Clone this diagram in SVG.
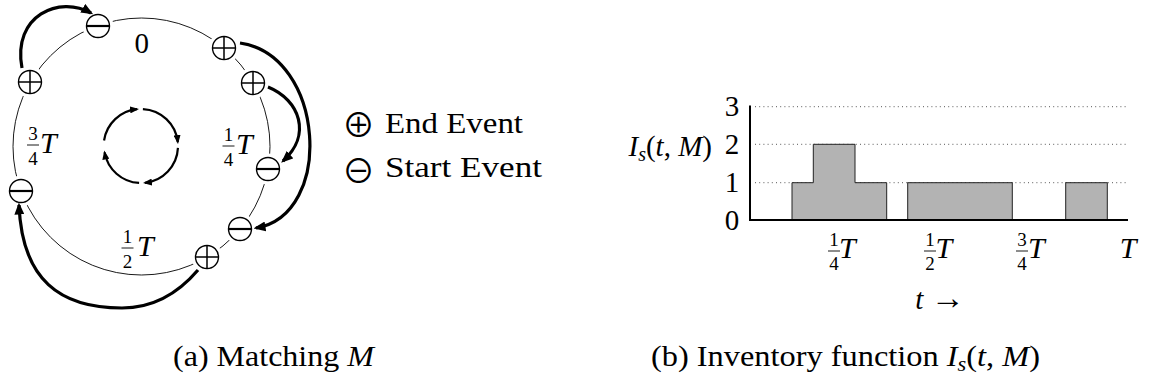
<svg xmlns="http://www.w3.org/2000/svg" xmlns:xlink="http://www.w3.org/1999/xlink" width="1152" height="385" viewBox="0 0 1152 385">
<style>
text{font-family:"Liberation Serif",serif}
.t{font-size:29px}
.it{font-style:italic}
.fr{font-size:19px;text-anchor:middle}
.bigT{font-size:30px;font-style:italic}
.ring{fill:none;stroke:#000;stroke-width:0.9}
.thick{fill:none;stroke:#000;stroke-width:3.2;marker-end:url(#ahBig)}
.inner{fill:none;stroke:#000;stroke-width:2.2;marker-end:url(#ahSmall)}
.fbar{stroke:#000;stroke-width:0.9}
.grid{stroke:#444;stroke-width:0.9;stroke-dasharray:1 3.2}
.bar{fill:#b3b3b3;stroke:#222;stroke-width:1}
.axis{fill:none;stroke:#000;stroke-width:2}
.sym{font-family:"Noto Sans CJK JP",sans-serif;font-size:33px;text-anchor:middle}
</style>
<defs>
<marker id="ahBig" viewBox="0 0 12 10" refX="9.5" refY="5" markerWidth="12" markerHeight="10" markerUnits="userSpaceOnUse" orient="auto"><path d="M0,0 L12,5 L0,10 Z"/></marker>
<marker id="ahSmall" viewBox="0 0 9 7" refX="7" refY="3.5" markerWidth="9" markerHeight="7" markerUnits="userSpaceOnUse" orient="auto"><path d="M0,0 L9,3.5 L0,7 Z"/></marker>
<g id="plus"><circle r="15.5" fill="#fff"/><circle r="11.5" fill="#fff" stroke="#000" stroke-width="1.4"/><path d="M-11.5,0H11.5M0,-11.5V11.5" stroke="#000" stroke-width="1.5"/></g>
<g id="minus"><circle r="15.5" fill="#fff"/><circle r="11.5" fill="#fff" stroke="#000" stroke-width="1.4"/><path d="M-11.5,0H11.5" stroke="#000" stroke-width="2.2"/></g>
</defs>
<rect width="1152" height="385" fill="#fff"/>

<g id="ring"><circle class="ring" cx="141.5" cy="146.5" r="128.5"/></g>
<g id="node-start-top" transform="translate(98,26)"><use xlink:href="#minus"/></g>
<g id="node-end-1" transform="translate(224,48)"><use xlink:href="#plus"/></g>
<g id="node-end-2" transform="translate(253,83)"><use xlink:href="#plus"/></g>
<g id="node-start-right" transform="translate(268,169)"><use xlink:href="#minus"/></g>
<g id="node-start-lowright" transform="translate(240,229)"><use xlink:href="#minus"/></g>
<g id="node-end-bottom" transform="translate(207,257)"><use xlink:href="#plus"/></g>
<g id="node-start-left" transform="translate(21,191)"><use xlink:href="#minus"/></g>
<g id="node-end-left" transform="translate(30,82)"><use xlink:href="#plus"/></g>

<g id="connectors">
<path class="thick" d="M22,68 C12,15 60,-5 91,13"/>
<path class="thick" d="M240,43 C325,55 335,215 256,228"/>
<path class="thick" d="M268,87 C300,100 312,135 283,161"/>
<path class="thick" d="M198,270 C175,297 150,308 122,308 C60,308 22,280 19,205"/>
<path class="inner" d="M142.9,109.05 A37,37 0 0 1 177.8,142.1"/>
<path class="inner" d="M177.95,147.9 A37,37 0 0 1 144.9,182.8"/>
<path class="inner" d="M139.1,182.95 A37,37 0 0 1 104.6,152.4"/>
<path class="inner" d="M104.05,140.5 A37,37 0 0 1 137.1,109.2"/>
</g>

<g id="ring-labels">
<text class="t" x="141.7" y="53" text-anchor="middle">0</text>
<text class="fr" x="33" y="140">3</text><line class="fbar" x1="27" y1="145" x2="39" y2="145"/><text class="fr" x="33" y="164.5">4</text><text class="bigT" x="40" y="153">T</text>
<text class="fr" x="228.5" y="141">1</text><line class="fbar" x1="222.5" y1="146" x2="234.5" y2="146"/><text class="fr" x="228.5" y="165.5">4</text><text class="bigT" x="236" y="154">T</text>
<text class="fr" x="127.5" y="243">1</text><line class="fbar" x1="121.5" y1="248" x2="133.5" y2="248"/><text class="fr" x="127.5" y="267.5">2</text><text class="bigT" x="137" y="256">T</text>
</g>

<g id="legend">
<text class="sym" x="358.5" y="137">⊕</text>
<text class="t" x="385" y="133" textLength="138" lengthAdjust="spacingAndGlyphs">End Event</text>
<text class="sym" x="358.5" y="183">⊖</text>
<text class="t" x="385" y="177" textLength="157" lengthAdjust="spacingAndGlyphs">Start Event</text>
</g>

<text class="t" x="173" y="366" textLength="201" lengthAdjust="spacingAndGlyphs">(a) Matching <tspan class="it">M</tspan></text>

<g id="chart">
<line class="grid" x1="755" y1="106.7" x2="1128" y2="106.7"/>
<line class="grid" x1="755" y1="144.3" x2="1128" y2="144.3"/>
<line class="grid" x1="755" y1="182.7" x2="1128" y2="182.7"/>
<path class="bar" d="M792,220 V182.7 H813.3 V144.3 H855 V182.7 H886.7 V220 Z"/>
<rect class="bar" x="907.7" y="182.7" width="104.6" height="37.3"/>
<rect class="bar" x="1065.7" y="182.7" width="41.6" height="37.3"/>
<path class="axis" d="M750,105.5 V221 M749,220 H1128"/>
<text class="t" x="732" y="116" text-anchor="middle">3</text>
<text class="t" x="732" y="153.5" text-anchor="middle">2</text>
<text class="t" x="732" y="192" text-anchor="middle">1</text>
<text class="t" x="732" y="230" text-anchor="middle">0</text>
<text class="t" x="712" y="156" text-anchor="end"><tspan class="it">I</tspan><tspan class="it" font-size="20" dy="5">s</tspan><tspan dy="-5">(</tspan><tspan class="it">t</tspan>, <tspan class="it">M</tspan>)</text>
<text class="fr" x="834" y="246">1</text><line class="fbar" x1="828" y1="251" x2="840" y2="251"/><text class="fr" x="834" y="270">4</text><text class="bigT" x="839" y="258">T</text>
<text class="fr" x="930" y="246">1</text><line class="fbar" x1="924" y1="251" x2="936" y2="251"/><text class="fr" x="930" y="270">2</text><text class="bigT" x="935.5" y="258">T</text>
<text class="fr" x="1022" y="246">3</text><line class="fbar" x1="1016" y1="251" x2="1028" y2="251"/><text class="fr" x="1022" y="270">4</text><text class="bigT" x="1028" y="258">T</text>
<text class="bigT" x="1128" y="258" text-anchor="middle">T</text>
<text class="t" x="940" y="309" text-anchor="middle"><tspan class="it">t</tspan> <tspan font-size="34">→</tspan></text>
</g>

<text class="t" x="651" y="366" textLength="389" lengthAdjust="spacingAndGlyphs">(b) Inventory function <tspan class="it">I</tspan><tspan class="it" font-size="20" dy="5">s</tspan><tspan dy="-5">(</tspan><tspan class="it">t</tspan>, <tspan class="it">M</tspan>)</text>
</svg>
